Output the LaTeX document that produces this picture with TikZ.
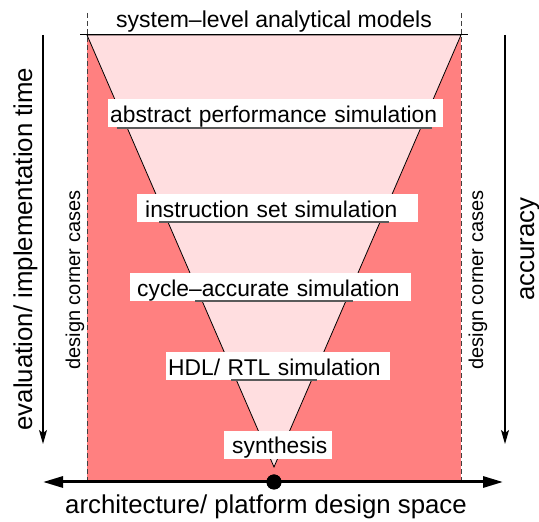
\documentclass[tikz,border=0pt]{standalone}
\usepackage{fontspec}
\setmainfont{Liberation Sans}
\usetikzlibrary{arrows.meta}
\definecolor{spacered}{RGB}{255,128,128}
\definecolor{funnelpink}{RGB}{255,222,224}
\definecolor{ulgray}{RGB}{90,90,90}
\begin{document}
\begin{tikzpicture}[x=1pt,y=1pt,
  lvl/.style={fill=white, inner ysep=0pt, text height=23pt, text depth=5pt, align=left, anchor=west, font=\fontsize{22.8}{27}\selectfont},
  sidelabel/.style={rotate=90, anchor=base, inner sep=0pt, font=\fontsize{25.8}{30}\selectfont},
  cornerlabel/.style={rotate=90, anchor=base, inner sep=0pt, font=\fontsize{20}{24}\selectfont},
  underl/.style={draw=ulgray, line width=1.5pt},
  vaxis/.style={line width=1.2pt, -{Stealth[length=14pt,width=8pt,inset=3pt]}},
  haxis/.style={line width=3pt, -{Triangle[length=20pt,width=11pt]}},
  dashline/.style={dash pattern=on 5pt off 3pt, line width=0.9pt, draw=black!75}
]
\useasboundingbox (0,0) rectangle (539,522);
% design space
\fill[spacered] (87,40) rectangle (461,487);
% funnel
\filldraw[fill=funnelpink, draw=black, line width=0.8pt] (87,487) -- (461,487) -- (274,55) -- cycle;
% dashed borders
\coordinate (dlt) at (87,509); \coordinate (dlb) at (87,42);
\coordinate (drt) at (461,509); \coordinate (drb) at (461,42);
\draw[dashline] (dlt) -- (dlb);
\draw[dashline] (drt) -- (drb);
% top line
\coordinate (tl) at (80,487); \coordinate (tr) at (468,487);
\draw[line width=1pt] (tl) -- (tr);
% vertical arrows
\coordinate (lat) at (43,487); \coordinate (lab) at (43,78);
\coordinate (rat) at (505,487); \coordinate (rab) at (505,78);
\draw[vaxis] (lat) -- (lab);
\draw[vaxis] (rat) -- (rab);
% bottom axis
\coordinate (axl) at (43,40); \coordinate (axr) at (503,40);
\node[circle, fill=black, minimum size=15pt, inner sep=0pt] (dot) at (274,40) {};
\draw[haxis] (dot.center) -- (axl);
\draw[haxis] (dot.center) -- (axr);
\node[circle, fill=black, minimum size=15pt, inner sep=0pt] at (dot) {};
% level labels
\node[lvl, text width=331pt, inner xsep=2pt] (abs) at (108,408.5) {abstract performance simulation};
\node[lvl, text width=265pt, inner xsep=8pt] (iss) at (137,313.5) {instruction set simulation};
\node[lvl, text width=267pt, inner xsep=7pt] (cyc) at (130,234.5) {cycle–accurate simulation};
\node[lvl, text width=220pt, inner xsep=2pt] (hdl) at (166,155.5) {HDL/ RTL simulation};
\node[lvl, text width=92pt, inner xsep=8pt] (syn) at (224,77) {synthesis};
% underlines
\draw[underl] (117,394) -- (432,394);
\draw[underl] (159,300) -- (389,300);
\draw[underl] (195,221) -- (353,221);
\draw[underl] (231,142) -- (317,142);
% texts
\node[anchor=base, inner sep=0pt, font=\fontsize{23}{27}\selectfont] (sys) at (274,494.5) {system–level analytical models};
\node[sidelabel] (evt) at (32,273) {evaluation/ implementation time};
\node[sidelabel] (acc) at (534,273) {accuracy};
\node[cornerlabel] (dcl) at (80,242) {design corner cases};
\node[cornerlabel] (dcr) at (483,242) {design corner cases};
\node[anchor=base, inner sep=0pt, font=\fontsize{25.8}{30}\selectfont] (arch) at (266,8) {architecture/ platform design space};
\end{tikzpicture}
\end{document}
